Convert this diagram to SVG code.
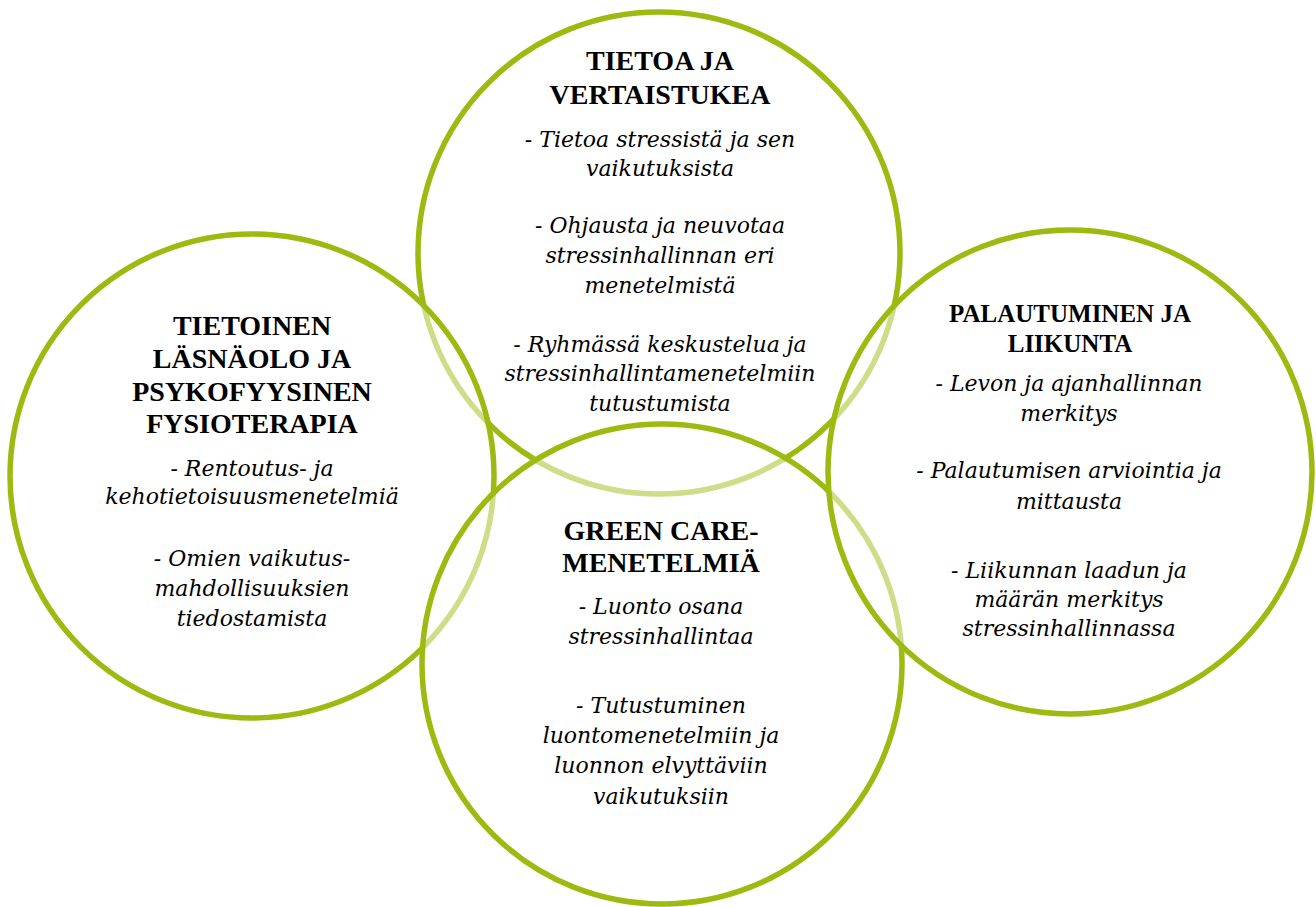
<svg xmlns="http://www.w3.org/2000/svg" width="1316" height="907" viewBox="0 0 1316 907">
<style>
.c{fill:#ffffff;fill-opacity:0.5;stroke:#9CBA10;stroke-width:5.5}
.h{font-family:"Liberation Serif","Times New Roman",serif;font-weight:bold;font-size:28px;fill:#000;text-anchor:middle}
.hs{font-size:25px}
.b{font-family:"DejaVu Serif",serif;font-style:italic;font-size:22px;fill:#000;text-anchor:middle}
</style>
<rect width="1316" height="907" fill="#ffffff"/>
<g id="circles">
<circle id="c-top" class="c" cx="659" cy="253" r="241"/>
<circle id="c-left" class="c" cx="252" cy="476" r="242"/>
<circle id="c-bottom" class="c" cx="662" cy="664" r="240"/>
<circle id="c-right" class="c" cx="1070" cy="472" r="242"/>
</g>
<g id="node-top">
<text class="h" x="660" y="70">TIETOA JA</text>
<text class="h" x="660" y="104">VERTAISTUKEA</text>
<text class="b" x="660" y="147">- Tietoa stressistä ja sen</text>
<text class="b" x="660" y="176">vaikutuksista</text>
<text class="b" x="660" y="233">- Ohjausta ja neuvotaa</text>
<text class="b" x="660" y="263">stressinhallinnan eri</text>
<text class="b" x="660" y="293">menetelmistä</text>
<text class="b" x="660" y="352">- Ryhmässä keskustelua ja</text>
<text class="b" x="660" y="381">stressinhallintamenetelmiin</text>
<text class="b" x="660" y="411">tutustumista</text>
</g>
<g id="node-left">
<text class="h" x="252" y="335">TIETOINEN</text>
<text class="h" x="252" y="368">LÄSNÄOLO JA</text>
<text class="h" x="252" y="401">PSYKOFYYSINEN</text>
<text class="h" x="252" y="433">FYSIOTERAPIA</text>
<text class="b" x="252" y="476">- Rentoutus- ja</text>
<text class="b" x="252" y="504">kehotietoisuusmenetelmiä</text>
<text class="b" x="252" y="566">- Omien vaikutus-</text>
<text class="b" x="252" y="596">mahdollisuuksien</text>
<text class="b" x="252" y="626">tiedostamista</text>
</g>
<g id="node-bottom">
<text class="h" x="661" y="540">GREEN CARE-</text>
<text class="h" x="661" y="572">MENETELMIÄ</text>
<text class="b" x="661" y="614">- Luonto osana</text>
<text class="b" x="661" y="644">stressinhallintaa</text>
<text class="b" x="661" y="713">- Tutustuminen</text>
<text class="b" x="661" y="743">luontomenetelmiin ja</text>
<text class="b" x="661" y="773">luonnon elvyttäviin</text>
<text class="b" x="661" y="804">vaikutuksiin</text>
</g>
<g id="node-right">
<text class="h hs" x="1070" y="322">PALAUTUMINEN JA</text>
<text class="h hs" x="1070" y="352">LIIKUNTA</text>
<text class="b" x="1069" y="391">- Levon ja ajanhallinnan</text>
<text class="b" x="1069" y="421">merkitys</text>
<text class="b" x="1069" y="478">- Palautumisen arviointia ja</text>
<text class="b" x="1069" y="509">mittausta</text>
<text class="b" x="1069" y="578">- Liikunnan laadun ja</text>
<text class="b" x="1069" y="607">määrän merkitys</text>
<text class="b" x="1069" y="636">stressinhallinnassa</text>
</g>
</svg>
